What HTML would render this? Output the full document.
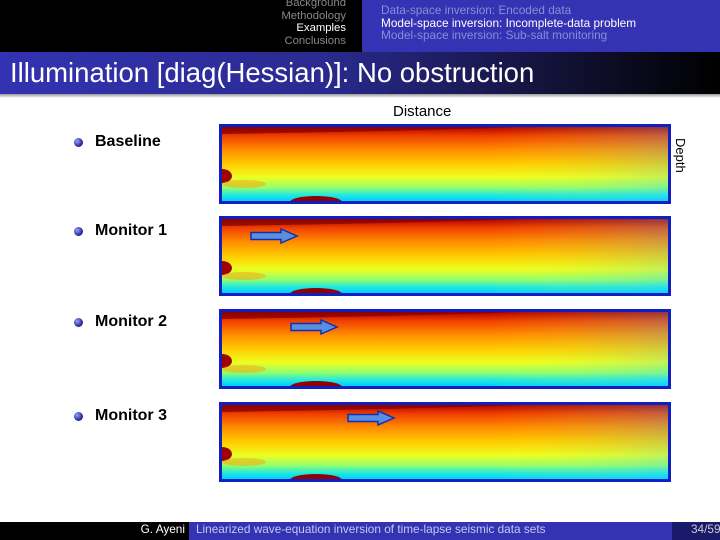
<!DOCTYPE html>
<html><head><meta charset="utf-8"><style>
body{margin:0;width:720px;height:540px;background:#fff;position:relative;overflow:hidden;font-family:"Liberation Sans",sans-serif}
.a{position:absolute}
.nav{font-size:11.3px;line-height:12.5px}
.bul{width:9px;height:9px;border-radius:50%;background:radial-gradient(circle at 35% 35%,#9aa0ff,#2a2f9a 60%,#1a1d60)}
.lbl{font-size:16px;font-weight:bold;color:#000}
</style></head><body>
<div class="a" style="left:0;top:0;width:362px;height:52px;background:#000"></div>
<div class="a" style="left:362px;top:0;width:358px;height:52px;background:#3333b3"></div>
<div class="a nav" style="left:180px;top:-3px;width:166px;text-align:right;color:#888">Background<br>Methodology<br><span style="color:#fff">Examples</span><br>Conclusions</div>
<div class="a nav" style="left:381px;top:4px;color:#8c8cd6;font-size:11.8px">Data-space inversion: Encoded data<br><span style="color:#fff">Model-space inversion: Incomplete-data problem</span><br>Model-space inversion: Sub-salt monitoring</div>
<div class="a" style="left:0;top:52px;width:720px;height:42px;background:linear-gradient(90deg,#3333b3 0%,#2a2a90 45%,#101030 80%,#000 100%)"></div>
<div class="a" style="left:10px;top:55px;color:#fff;font-size:27.5px;line-height:36px">Illumination [diag(Hessian)]: No obstruction</div>
<div class="a" style="left:0;top:94px;width:720px;height:4px;background:linear-gradient(#999,#fff)"></div>
<div class="a" style="left:393px;top:103px;font-size:15px">Distance</div>
<div class="a" style="font-size:13px;transform:rotate(90deg);transform-origin:0 0;left:688px;top:138px">Depth</div>
<svg class="a" style="left:0;top:0" width="720" height="540">
<defs>
<clipPath id="c"><rect x="3" y="3" width="446" height="74"/></clipPath>
<linearGradient id="g" x1="0" y1="0" x2="0" y2="1">
<stop offset="0" stop-color="#b00000"/><stop offset="0.12" stop-color="#f04000"/><stop offset="0.3" stop-color="#ff8a00"/><stop offset="0.5" stop-color="#ffcc00"/><stop offset="0.68" stop-color="#eeff20"/><stop offset="0.82" stop-color="#90ff70"/><stop offset="0.92" stop-color="#20e8e0"/><stop offset="1" stop-color="#00d0ff"/></linearGradient>
<linearGradient id="h" x1="0" y1="0" x2="1" y2="0"><stop offset="0" stop-color="#fff" stop-opacity="0"/><stop offset="0.6" stop-color="#ff0" stop-opacity="0"/><stop offset="1" stop-color="#4cf" stop-opacity="0.25"/></linearGradient>
<g id="p">
<rect x="0" y="0" width="452" height="80" fill="#fff"/>
<g clip-path="url(#c)">
<rect x="3" y="3" width="446" height="74" fill="url(#g)"/>
<rect x="3" y="3" width="446" height="74" fill="url(#h)"/>
<path d="M3 3 H300 Q200 7 3 10Z" fill="#800000" opacity="0.7"/>
<ellipse cx="3" cy="52" rx="10" ry="7" fill="#a00000"/>
<ellipse cx="25" cy="60" rx="22" ry="4" fill="#ffa000" opacity="0.5"/>
<ellipse cx="97" cy="78" rx="26" ry="6" fill="#900000"/>
</g>
<rect x="1.5" y="1.5" width="449" height="77" fill="none" stroke="#1020c0" stroke-width="3"/>
</g>
<g id="ar"><path d="M0 -3.5 H30 V-7 L46 0 L30 7 V3.5 H0Z" fill="#5a8ee0" stroke="#1030b0" stroke-width="1.5"/></g>
</defs>
<use href="#p" x="219" y="124"/>
<use href="#p" x="219" y="216"/>
<use href="#p" x="219" y="309"/>
<use href="#p" x="219" y="402"/>
<use href="#ar" x="251" y="236"/>
<use href="#ar" x="291" y="327"/>
<use href="#ar" x="348" y="418"/>
</svg>
<div class="a bul" style="left:74px;top:138px"></div><div class="a lbl" style="left:95px;top:133px">Baseline</div>
<div class="a bul" style="left:74px;top:227px"></div><div class="a lbl" style="left:95px;top:222px">Monitor 1</div>
<div class="a bul" style="left:74px;top:318px"></div><div class="a lbl" style="left:95px;top:313px">Monitor 2</div>
<div class="a bul" style="left:74px;top:412px"></div><div class="a lbl" style="left:95px;top:407px">Monitor 3</div>
<div class="a" style="left:0;top:522px;width:189px;height:18px;background:#000"></div>
<div class="a" style="left:189px;top:522px;width:483px;height:18px;background:#3333b3"></div>
<div class="a" style="left:672px;top:522px;width:48px;height:18px;background:#1a1a6a"></div>
<div class="a" style="left:0;top:522px;width:185px;text-align:right;color:#fff;font-size:11.8px">G. Ayeni</div>
<div class="a" style="left:196px;top:522px;color:#c8c8ee;font-size:11.8px">Linearized wave-equation inversion of time-lapse seismic data sets</div>
<div class="a" style="left:691px;top:522px;color:#ccc;font-size:11.8px;white-space:nowrap">34/59</div>
</body></html>
